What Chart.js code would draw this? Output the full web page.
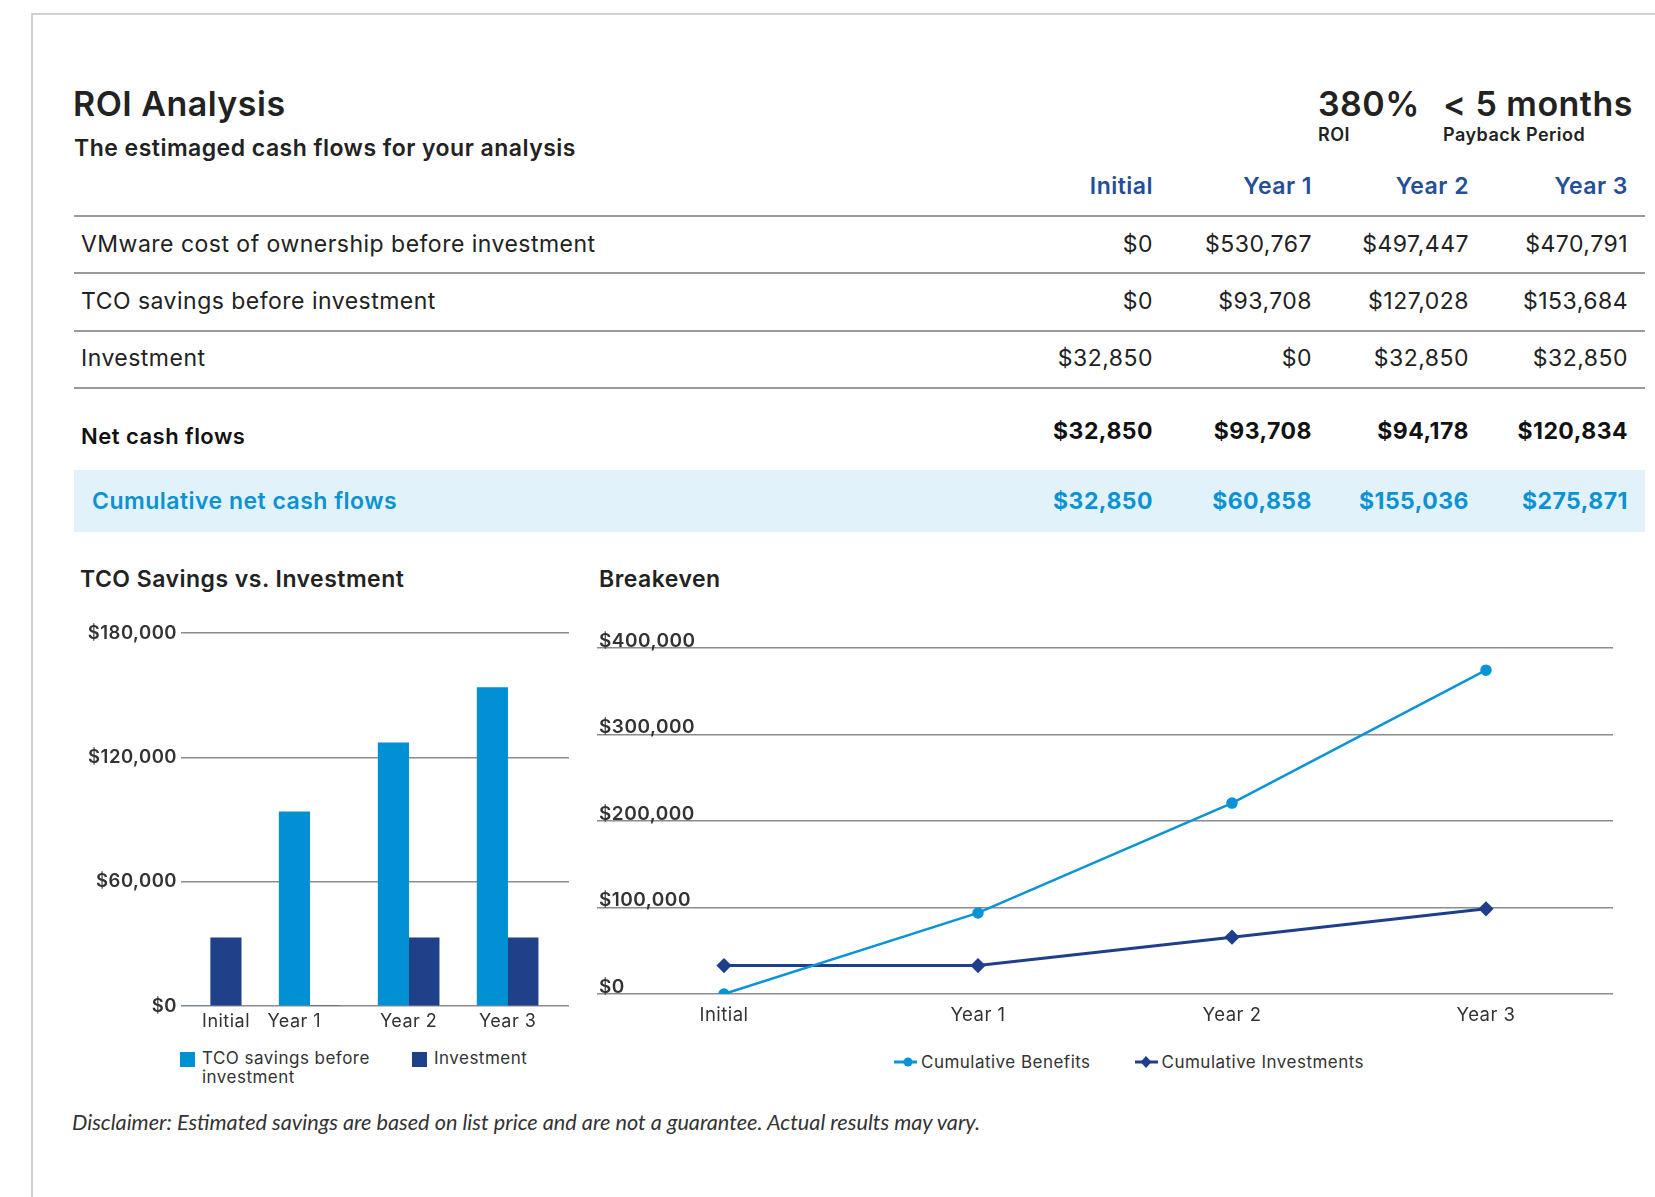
<!doctype html>
<html lang="en">
<head>
<meta charset="utf-8">
<title>ROI Analysis</title>
<style>
  * { margin: 0; padding: 0; box-sizing: border-box; }
  body {
    width: 1655px; height: 1197px; background: #fff; overflow: hidden; position: relative;
    font-family: Inter, sans-serif; color: #222; letter-spacing: 0.03em;
  }
  .frame { position: absolute; left: 31px; top: 13px; width: 1700px; height: 1300px;
    border-top: 2px solid #d0d0d0; border-left: 2px solid #d0d0d0; }
  .t { position: absolute; line-height: 1; white-space: nowrap; }
  .rule { position: absolute; left: 74px; width: 1571px; height: 2px; background: #9a9a9a; }
  .cumbg { position: absolute; left: 74px; top: 470px; width: 1571px; height: 62px; background: #e1f2fb; }
  .box { position: absolute; }
  .legend { position: absolute; display: flex; font-size: 17px; color: #333; }
  .legend .item { display: flex; align-items: flex-start; }
  .legend .sw { width: 15px; height: 15px; margin-top: 3px; margin-right: 7px; flex: none; }
  .legend .lbl { line-height: 18.5px; white-space: normal; }
  .llegend { position: absolute; display: flex; align-items: center; font-size: 17px; color: #333; }
  .llegend .item { display: flex; align-items: center; margin-right: 44px; }
  .llegend svg { margin-right: 4px; }
  .disc { position: absolute; left: 72px; font-family: Lato, sans-serif; font-style: italic; font-size: 21.7px;
    line-height: 1; color: #333; letter-spacing: 0; white-space: nowrap; }
</style>
</head>
<body>
<div class="frame"></div>
<div class="cumbg"></div>
<div id="texts"></div>

<div class="box" style="left:80px; top:618px; width:490px; height:418px;"><canvas id="barChart"></canvas></div>
<div class="legend" id="barLegend" style="left:180px; top:1049px;"></div>

<div class="box" style="left:597px; top:628px; width:1016px; height:400px;"><canvas id="lineChart"></canvas></div>
<div class="llegend" id="lineLegend" style="left:894px; top:1052px; height:20px;"></div>

<div class="disc" style="top:1112px;">Disclaimer: Estimated savings are based on list price and are not a guarantee. Actual results may vary.</div>

<script src="https://cdn.jsdelivr.net/npm/chart.js@4.4.1/dist/chart.umd.min.js"></script>
<script>
  // data
  const years = ['Initial', 'Year 1', 'Year 2', 'Year 3'];
  const vmwareCost = [0, 530767, 497447, 470791];
  const tcoSavings = [0, 93708, 127028, 153684];
  const investment = [32850, 0, 32850, 32850];
  const netCashFlows = [32850, 93708, 94178, 120834];
  const cumulativeNet = [32850, 60858, 155036, 275871];
  const cumulativeBenefits = [0, 93708, 220736, 374420];
  const cumulativeInvestments = [32850, 32850, 65700, 98550];
  const barTicks = [0, 60000, 120000, 180000];
  const lineTicks = [0, 100000, 200000, 300000, 400000];

  const lightBlue = '#0090d3';
  const darkBlue = '#1f418a';
  const money = v => '$' + Number(v).toLocaleString('en-US');

  // text helpers: line-height 1, place by baseline (Inter ascent ~0.864em at lh 1)
  const texts = document.getElementById('texts');
  function put(str, x, base, size, style, right) {
    const d = document.createElement('div');
    d.className = 't';
    d.textContent = str;
    d.style.fontSize = size + 'px';
    d.style.top = (base - 0.864 * size) + 'px';
    if (right) d.style.right = (1655 - x) + 'px';
    else d.style.left = x + 'px';
    Object.assign(d.style, style || {});
    texts.appendChild(d);
  }

  // header
  put('ROI Analysis', 73, 116, 34, { fontWeight: 600 });
  put('The estimaged cash flows for your analysis', 74, 157, 23, { fontWeight: 600 });
  put('380%', 1318, 116, 34, { fontWeight: 600 });
  put('ROI', 1318, 142, 18, { fontWeight: 600 });
  put('< 5 months', 1443, 116, 34, { fontWeight: 600 });
  put('Payback Period', 1443, 142, 18, { fontWeight: 600 });

  // table
  const colRight = [1153, 1312, 1469, 1628];
  years.forEach((y, i) => put(y, colRight[i], 195, 23, { fontWeight: 600, color: '#244e99' }, true));
  [216, 273, 331, 388].forEach(y => {
    const r = document.createElement('div');
    r.className = 'rule';
    r.style.top = (y - 1) + 'px';
    texts.appendChild(r);
  });
  const rows = [
    { label: 'VMware cost of ownership before investment', values: vmwareCost, base: 253 },
    { label: 'TCO savings before investment', values: tcoSavings, base: 310 },
    { label: 'Investment', values: investment, base: 367 }
  ];
  rows.forEach(r => {
    put(r.label, 81, r.base, 23, {});
    r.values.forEach((v, i) => put(money(v), colRight[i], r.base, 23, {}, true));
  });
  put('Net cash flows', 81, 444, 22, { fontWeight: 600, color: '#111' });
  netCashFlows.forEach((v, i) => put(money(v), colRight[i], 440, 23, { fontWeight: 700, color: '#111' }, true));
  put('Cumulative net cash flows', 92, 510, 23, { fontWeight: 600, color: '#0b92d3' });
  cumulativeNet.forEach((v, i) => put(money(v), colRight[i], 510, 23, { fontWeight: 700, color: '#0b92d3' }, true));

  // chart titles
  put('TCO Savings vs. Investment', 80, 588, 23, { fontWeight: 600 });
  put('Breakeven', 599, 588, 23, { fontWeight: 600 });

  Chart.defaults.font.family = 'Inter, sans-serif';
  Chart.defaults.color = '#333';

  // bar chart: linear index axis, the tick sits under the visible bar when a category has only one
  const barWidth = 30.5;
  const tickShift = 0.155;
  const barChart = new Chart(document.getElementById('barChart'), {
    type: 'bar',
    data: {
      datasets: [
        { label: 'TCO savings before investment', data: tcoSavings.map((v, i) => ({ x: i, y: v })), backgroundColor: lightBlue },
        { label: 'Investment', data: investment.map((v, i) => ({ x: i, y: v })), backgroundColor: darkBlue }
      ]
    },
    options: {
      responsive: true,
      maintainAspectRatio: false,
      animation: false,
      layout: { padding: { top: 14, right: 1 }, autoPadding: false },
      datasets: { bar: { barThickness: barWidth } },
      plugins: { legend: { display: false }, tooltip: { enabled: false } },
      scales: {
        x: {
          type: 'linear', min: -0.3, max: 3.62, offset: false,
          grid: { display: false, offset: false }, border: { display: false },
          afterBuildTicks: scale => {
            scale.ticks = years.map((y, i) => {
              let v = i;
              if (tcoSavings[i] === 0) v += tickShift;
              else if (investment[i] === 0) v -= tickShift;
              return { value: v };
            });
          },
          ticks: { callback: (v, i) => years[i], autoSkip: false, maxRotation: 0, padding: -3, font: { size: 18 } },
          afterFit: s => { s.height = 30; }
        },
        y: {
          min: barTicks[0], max: barTicks[barTicks.length - 1],
          grid: { color: '#8c8c8c', lineWidth: 1.5, drawTicks: false }, border: { display: false },
          ticks: { stepSize: barTicks[1] - barTicks[0], callback: money, padding: 4, font: { size: 18.5, weight: '600' } },
          afterFit: s => { s.width = 101; }
        }
      }
    }
  });

  // line chart
  const lineChart = new Chart(document.getElementById('lineChart'), {
    type: 'line',
    data: {
      labels: years,
      datasets: [
        { label: 'Cumulative Benefits', data: cumulativeBenefits, borderColor: '#0a93d6', backgroundColor: '#0a93d6',
          borderWidth: 2.5, pointStyle: 'circle', pointRadius: 4.5 },
        { label: 'Cumulative Investments', data: cumulativeInvestments, borderColor: '#1f3f8c', backgroundColor: '#1f3f8c',
          borderWidth: 3, pointStyle: 'rectRot', pointRadius: 5.5 }
      ]
    },
    options: {
      responsive: true,
      maintainAspectRatio: false,
      animation: false,
      layout: { padding: { top: 20 }, autoPadding: false },
      plugins: { legend: { display: false }, tooltip: { enabled: false } },
      scales: {
        x: {
          offset: true, grid: { display: false }, border: { display: false },
          ticks: { padding: 2, font: { size: 18.5 } },
          afterFit: s => { s.height = 34; }
        },
        y: {
          min: lineTicks[0], max: lineTicks[lineTicks.length - 1],
          grid: { color: '#8c8c8c', lineWidth: 1.5, drawTicks: false }, border: { display: false },
          ticks: { stepSize: lineTicks[1] - lineTicks[0], callback: money, mirror: true, padding: 2, labelOffset: -7,
                   font: { size: 19, weight: '600' } },
          afterFit: s => { s.width = 0; }
        }
      }
    }
  });

  // html legends from the datasets
  const barLegend = document.getElementById('barLegend');
  barChart.data.datasets.forEach((ds, i) => {
    const item = document.createElement('div');
    item.className = 'item';
    item.style.width = i === 0 ? '232px' : 'auto';
    item.innerHTML = '<span class="sw" style="background:' + ds.backgroundColor + '"></span>' +
      '<span class="lbl" style="width:' + (i === 0 ? 175 : 120) + 'px">' + ds.label + '</span>';
    barLegend.appendChild(item);
  });

  const lineLegend = document.getElementById('lineLegend');
  lineChart.data.datasets.forEach(ds => {
    const item = document.createElement('div');
    item.className = 'item';
    const mark = ds.pointStyle === 'circle'
      ? '<circle cx="14" cy="7" r="4.5" fill="' + ds.borderColor + '"/>'
      : '<polygon points="11,1 16.5,7 11,13 5.5,7" fill="' + ds.borderColor + '"/>';
    item.innerHTML = '<svg width="23" height="14"><line x1="0" y1="7" x2="23" y2="7" stroke="' + ds.borderColor +
      '" stroke-width="3"/>' + mark + '</svg><span>' + ds.label + '</span>';
    lineLegend.appendChild(item);
  });
</script>
</body>
</html>
